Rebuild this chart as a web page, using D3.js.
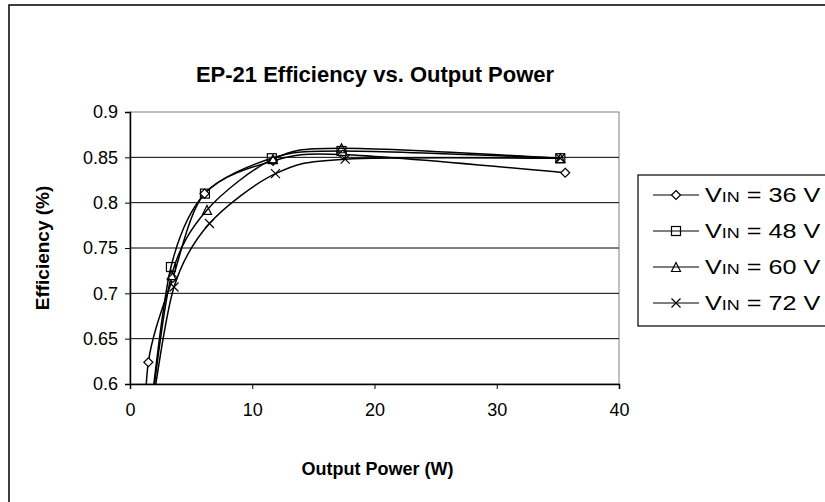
<!DOCTYPE html>
<html>
<head>
<meta charset="utf-8">
<script src="https://cdn.jsdelivr.net/npm/d3@7"></script>
<style>
  body { margin: 0; background: #fff; }
  text { font-family: Arial, "Liberation Sans", sans-serif; fill: #000; }
</style>
</head>
<body>
<svg id="chart"></svg>
<script>
const WIDTH = 825,
    HEIGHT = 502;

// chart data
const xTicks = [0, 10, 20, 30, 40];
const yTicks = [0.6, 0.65, 0.7, 0.75, 0.8, 0.85, 0.9];

const seriesVolts = ["36", "48", "60", "72"];
const markerKinds = ["diamond", "square", "triangle", "cross"];

const power36 = [1.2, 1.5, 3.5, 6.1, 11.7, 17.4, 35.6];
const eff36 = [0.50, 0.624, 0.717, 0.81, 0.846, 0.853, 0.833];

const power48 = [1.7, 3.35, 6.13, 11.6, 17.3, 35.2];
const eff48 = [0.57, 0.729, 0.81, 0.849, 0.857, 0.849];

const power60 = [1.75, 3.4, 6.3, 11.7, 17.3, 35.2];
const eff60 = [0.57, 0.72, 0.792, 0.848, 0.86, 0.849];

const power72 = [1.9, 3.6, 6.5, 11.9, 17.6, 35.2];
const eff72 = [0.58, 0.707, 0.777, 0.832, 0.848, 0.849];

const powers = [power36, power48, power60, power72];
const effs = [eff36, eff48, eff60, eff72];

const series = seriesVolts.map((v, i) => ({
    volts: v,
    marker: markerKinds[i],
    points: powers[i].map((p, j) => ({ x: p, y: effs[i][j] }))
}));

const plot = { left: 130, right: 619, top: 112, bottom: 384 };

const x = d3.scaleLinear().domain([0, 40]).range([plot.left, plot.right]);
const y = d3.scaleLinear().domain([0.6, 0.9]).range([plot.bottom, plot.top]);

const svg = d3.select("svg#chart")
    .attr("width", WIDTH)
    .attr("height", HEIGHT);

// outer chart frame (runs off the right and bottom like the reference)
svg.append("rect")
    .attr("x", 9).attr("y", 5)
    .attr("width", 840).attr("height", 520)
    .attr("fill", "#fff")
    .attr("stroke", "#000")
    .attr("stroke-width", 1.5);

svg.append("text")
    .attr("x", 375).attr("y", 82)
    .attr("text-anchor", "middle")
    .attr("font-size", 22)
    .attr("font-weight", "bold")
    .text("EP-21 Efficiency vs. Output Power");

// plot area
svg.append("rect")
    .attr("x", plot.left).attr("y", plot.top)
    .attr("width", plot.right - plot.left)
    .attr("height", plot.bottom - plot.top)
    .attr("fill", "#fff")
    .attr("stroke", "#808080")
    .attr("stroke-width", 1);

svg.append("g")
    .selectAll("line")
    .data(yTicks.filter(t => t > 0.6 && t < 0.9))
    .enter().append("line")
        .attr("x1", plot.left).attr("x2", plot.right)
        .attr("y1", d => y(d)).attr("y2", d => y(d))
        .attr("stroke", "#000")
        .attr("stroke-width", 1);

const yAxis = svg.append("g")
    .attr("transform", `translate(${plot.left},0)`)
    .call(d3.axisLeft(y).tickValues(yTicks).tickSize(5).tickPadding(7)
        .tickFormat(d => d3.format("")(+d.toFixed(2))));

const xAxis = svg.append("g")
    .attr("transform", `translate(0,${plot.bottom})`)
    .call(d3.axisBottom(x).tickValues(xTicks).tickSize(5).tickPadding(14));

[xAxis, yAxis].forEach(ax => {
    ax.select(".domain").attr("stroke", "#000").attr("stroke-width", 1.5);
    ax.selectAll(".tick line").attr("stroke", "#000");
    ax.selectAll(".tick text")
        .attr("font-size", 18)
        .attr("font-family", "Arial, 'Liberation Sans', sans-serif");
});

svg.append("text")
    .attr("transform", `translate(49,${(plot.top + plot.bottom) / 2}) rotate(-90)`)
    .attr("text-anchor", "middle")
    .attr("font-size", 19)
    .attr("font-weight", "bold")
    .text("Efficiency (%)");

svg.append("text")
    .attr("x", (plot.left + plot.right) / 2 + 3)
    .attr("y", 475)
    .attr("text-anchor", "middle")
    .attr("font-size", 18)
    .attr("font-weight", "bold")
    .text("Output Power (W)");

// lines, clipped to the plot area
svg.append("clipPath")
    .attr("id", "plotClip")
    .append("rect")
        .attr("x", plot.left).attr("y", plot.top)
        .attr("width", plot.right - plot.left)
        .attr("height", plot.bottom - plot.top);

const line = d3.line()
    .x(d => x(d.x))
    .y(d => y(d.y))
    .curve(d3.curveCardinal.tension(0.1));

svg.append("g")
    .attr("clip-path", "url(#plotClip)")
    .selectAll("path")
    .data(series)
    .enter().append("path")
        .attr("d", d => line(d.points))
        .attr("fill", "none")
        .attr("stroke", "#000")
        .attr("stroke-width", 1.5);

function drawMarker(g, kind) {
    const s = 4.5;
    if (kind === "diamond") {
        g.append("path").attr("d", `M0,${-s}L${s},0L0,${s}L${-s},0Z`)
            .attr("fill", "#fff").attr("stroke", "#000").attr("stroke-width", 1.2);
    } else if (kind === "square") {
        g.append("rect").attr("x", -s).attr("y", -s).attr("width", 2 * s).attr("height", 2 * s)
            .attr("fill", "none").attr("stroke", "#000").attr("stroke-width", 1.2);
    } else if (kind === "triangle") {
        g.append("path").attr("d", `M0,${-s}L${s},${s}L${-s},${s}Z`)
            .attr("fill", "none").attr("stroke", "#000").attr("stroke-width", 1.2);
    } else {
        g.append("path").attr("d", `M${-s},${-s}L${s},${s}M${-s},${s}L${s},${-s}`)
            .attr("fill", "none").attr("stroke", "#000").attr("stroke-width", 1.2);
    }
}

series.forEach(s => {
    s.points
        .filter(p => p.y >= 0.6)
        .forEach(p => {
            const g = svg.append("g").attr("transform", `translate(${x(p.x)},${y(p.y)})`);
            drawMarker(g, s.marker);
        });
});

// legend
const legend = svg.append("g");
legend.append("rect")
    .attr("x", 638).attr("y", 175)
    .attr("width", 200).attr("height", 151)
    .attr("fill", "#fff")
    .attr("stroke", "#000")
    .attr("stroke-width", 1.2);

const legendRowY = d3.scalePoint().domain(seriesVolts).range([195, 303]);

series.forEach(s => {
    const ly = legendRowY(s.volts);
    legend.append("line")
        .attr("x1", 653).attr("x2", 699)
        .attr("y1", ly).attr("y2", ly)
        .attr("stroke", "#000").attr("stroke-width", 1.2);
    drawMarker(legend.append("g").attr("transform", `translate(676,${ly})`), s.marker);
    // legend text in the reference is drawn a bit wide, so stretch it horizontally
    const t = legend.append("text")
        .attr("transform", `translate(705,${ly + 7}) scale(1.2,1)`)
        .attr("font-size", 21);
    t.append("tspan").text("V");
    t.append("tspan").attr("font-size", 15).text("IN");
    t.append("tspan").text(` = ${s.volts} V`);
});
</script>
</body>
</html>
